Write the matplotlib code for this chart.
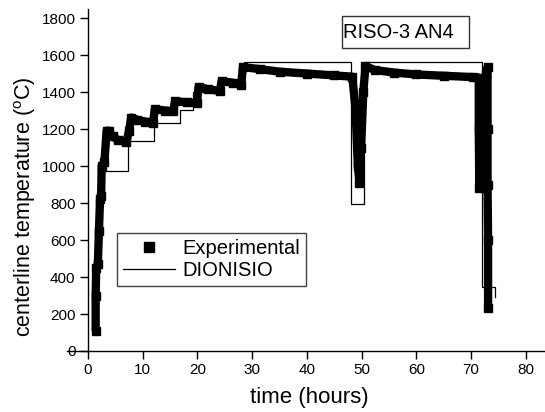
import numpy as np
import matplotlib
matplotlib.use("Agg")
import matplotlib.pyplot as plt
from matplotlib.patches import Rectangle

plt.rcParams['font.family'] = ['Liberation Sans', 'DejaVu Sans']
plt.rcParams['mathtext.fontset'] = 'custom'
plt.rcParams['mathtext.rm'] = 'Liberation Sans'

### Data
# Experimental (thick, square markers)
exp_time = [1.4, 1.4, 1.5, 1.8, 2.0, 2.2, 2.4, 2.5, 3.0, 3.4, 3.8, 4.5, 5.5, 7.0,
            7.5, 7.9, 9.0, 10.5, 11.9, 12.2, 14.0, 15.6, 15.9, 18.0, 19.9,
            20.2, 22.0, 24.1, 24.4, 26.5, 28.0, 28.3, 31.4, 35.0, 40.0, 45.0,
            48.3, 48.9, 49.3, 49.6, 49.9, 50.3, 50.7, 52.4, 56.0, 60.0, 65.0,
            70.3, 71.4, 71.4, 71.5, 72.2, 72.8, 73.0, 73.0, 73.0, 73.1, 73.1]
exp_temp = [110, 300, 450, 470, 650, 820, 840, 1000, 1020, 1190, 1190, 1160, 1140, 1130,
            1190, 1262, 1250, 1240, 1235, 1308, 1300, 1297, 1350, 1345, 1340,
            1427, 1415, 1405, 1459, 1450, 1440, 1535, 1524, 1510, 1500, 1490,
            1483, 1300, 1000, 910, 1100, 1400, 1540, 1519, 1505, 1495, 1488,
            1481, 1478, 1200, 880, 1100, 1500, 1535, 1200, 900, 600, 235]

# DIONISIO (thin step line, value holds until next time)
dio_time = [1.2, 1.2, 1.7, 2.2, 7.3, 12.1, 16.9, 19.2, 24.4, 28.5, 48.0, 50.4, 72.0, 74.4]
dio_temp = [100, 420, 800, 975, 1135, 1231, 1303, 1400, 1460, 1560, 795, 1560, 344, 290]

### Plotting
fig = plt.figure(figsize=(5.45, 4.12), dpi=100)
ax = fig.add_axes([88/545, 61/412, 457/545, 342/412])

ax.plot(dio_time, dio_temp, drawstyle='steps-post', color='black', lw=0.9, label='DIONISIO')
ax.plot(exp_time, exp_temp, color='black', lw=6, solid_capstyle='butt', zorder=3)
exp_pts, = ax.plot(exp_time, exp_temp, 's', color='black', ms=6, zorder=3, label='Experimental')

ax.set_xlim(0, 83.5)
ax.set_ylim(0, 1849)
ax.set_xticks(np.arange(0, 81, 10))
ax.set_yticks(np.arange(0, 1801, 200))
ax.tick_params(direction='out', length=6, width=1, labelsize=11, pad=3)
for s in ['top', 'right']:
    ax.spines[s].set_visible(False)
for s in ['left', 'bottom']:
    ax.spines[s].set_linewidth(1)

# x axis line sticks out a little to the left
ax.plot([-21/457, 0], [0, 0], transform=ax.transAxes, clip_on=False, color='black', lw=1)

ax.set_xlabel('time (hours)', fontsize=16, va='center')
ax.xaxis.set_label_coords(221/457, -47/342)
fig.text(25/545, 1 - 207/412, r'centerline temperature ($^{\mathrm{o}}$C)', fontsize=15.5,
         rotation=90, ha='center', va='center')

# Label box
ax.add_patch(Rectangle((0.555, 0.885), 0.279, 0.095, transform=ax.transAxes,
                       fill=False, edgecolor='#333333', lw=1, clip_on=False))
ax.text(0.559, 0.932, 'RISO-3 AN4', transform=ax.transAxes, fontsize=14.5,
        ha='left', va='center')

leg = ax.legend(handles=[exp_pts, ax.lines[0]], loc='upper left',
                bbox_to_anchor=(0.063, 0.345), borderaxespad=0, fontsize=14.5,
                fancybox=False, edgecolor='#444444', framealpha=1,
                handlelength=2.6, handletextpad=0.35, labelspacing=0.15,
                borderpad=0.3, markerscale=1.2)
leg.get_frame().set_linewidth(1)

fig.savefig('out.png', dpi=100)
